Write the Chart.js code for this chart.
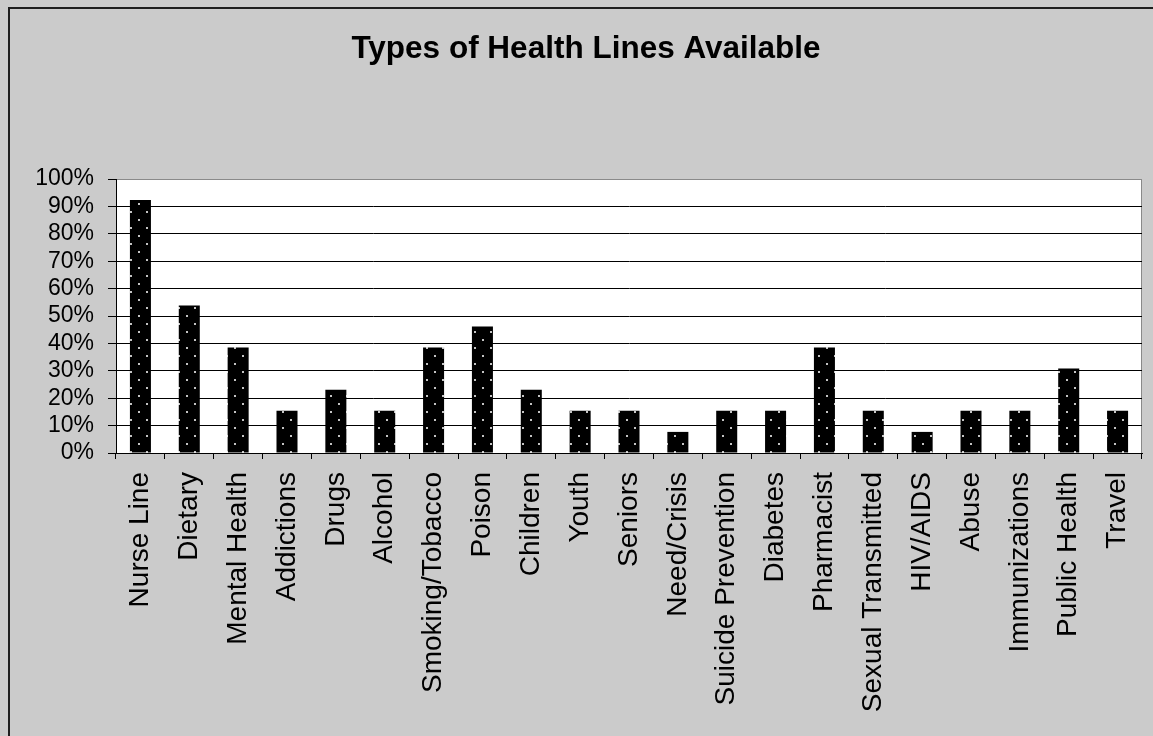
<!DOCTYPE html>
<html>
<head>
<meta charset="utf-8">
<title>Types of Health Lines Available</title>
<script src="https://cdn.jsdelivr.net/npm/chart.js@4/dist/chart.umd.min.js"></script>
<style>
  html, body { margin: 0; padding: 0; background: #cbcbcb; }
  #wrap { width: 1153px; height: 736px; }
</style>
</head>
<body>
<div id="wrap"><canvas id="chart" width="1153" height="736"></canvas></div>
<script>
// Share of respondents offering each type of health line (percent)
const categories = [
  'Nurse Line', 'Dietary', 'Mental Health', 'Addictions', 'Drugs', 'Alcohol',
  'Smoking/Tobacco', 'Poison', 'Children', 'Youth', 'Seniors', 'Need/Crisis',
  'Suicide Prevention', 'Diabetes', 'Pharmacist', 'Sexual Transmitted',
  'HIV/AIDS', 'Abuse', 'Immunizations', 'Public Health', 'Travel'
];
const shares = [
  92.3, 53.8, 38.5, 15.4, 23.1, 15.4,
  38.5, 46.2, 23.1, 15.4, 15.4, 7.7,
  15.4, 15.4, 38.5, 15.4,
  7.7, 15.4, 15.4, 30.8, 15.4
];
const yTicks = [0, 10, 20, 30, 40, 50, 60, 70, 80, 90, 100];
const chartTitle = 'Types of Health Lines Available';

const FONT = "'Liberation Sans', Arial, sans-serif";

// Black fill with a staggered grid of light dots
function dottedFill() {
  const tile = document.createElement('canvas');
  tile.width = 16; tile.height = 16;
  const t = tile.getContext('2d');
  t.fillStyle = '#000';
  t.fillRect(0, 0, 16, 16);
  t.fillStyle = '#c4c4c4';
  t.fillRect(2, 3, 2, 2);
  t.fillRect(10, 11, 2, 2);
  return t.createPattern(tile, 'repeat');
}

// Gray page, frame lines and white plot area
const backdrop = {
  id: 'backdrop',
  beforeDraw(chart) {
    const { ctx, chartArea: a, width, height } = chart;
    ctx.save();
    ctx.fillStyle = '#cbcbcb';
    ctx.fillRect(0, 0, width, height);
    ctx.fillStyle = '#1e1e1e';
    ctx.fillRect(8, 7, width - 8, 2);
    ctx.fillRect(8, 7, 2, height - 7);
    ctx.fillStyle = '#ffffff';
    ctx.fillRect(a.left, a.top, a.right - a.left, a.bottom - a.top);
    ctx.strokeStyle = '#8a8a8a';
    ctx.lineWidth = 1;
    ctx.strokeRect(a.left + 0.5, a.top + 0.5, a.right - a.left - 1, a.bottom - a.top);
    ctx.restore();
  }
};

new Chart(document.getElementById('chart'), {
  type: 'bar',
  data: {
    labels: categories,
    datasets: [{
      data: shares,
      backgroundColor: dottedFill(),
      borderWidth: 0,
      barPercentage: 0.43,
      categoryPercentage: 1.0
    }]
  },
  options: {
    responsive: false,
    animation: false,
    events: [],
    layout: { padding: { left: 30, right: 11, top: 0, bottom: 0 } },
    plugins: {
      legend: { display: false },
      tooltip: { enabled: false },
      title: {
        display: true,
        text: chartTitle,
        color: '#000',
        font: { family: FONT, size: 31.5, weight: 'bold', lineHeight: 1.2 },
        padding: { top: 30, bottom: 111.2 }
      }
    },
    scales: {
      x: {
        grid: {
          offset: true,
          drawOnChartArea: false,
          tickLength: 6,
          color: '#000',
          lineWidth: 1
        },
        border: { color: '#000', width: 1 },
        ticks: {
          autoSkip: false,
          minRotation: 90,
          maxRotation: 90,
          padding: 13,
          color: '#000',
          font: { family: FONT, size: 28 }
        },
        afterFit(scale) {
          scale.height = 283;
          scale.paddingLeft = 0;
          scale.paddingRight = 0;
        }
      },
      y: {
        min: 0,
        max: 100,
        afterBuildTicks(scale) {
          scale.ticks = yTicks.map(v => ({ value: v }));
        },
        grid: {
          color: ctx => (ctx.tick && ctx.tick.value === 100 ? '#8a8a8a' : '#000'),
          tickColor: '#000',
          tickLength: 8,
          lineWidth: 1
        },
        border: { color: '#000', width: 1 },
        ticks: {
          autoSkip: false,
          padding: 14,
          color: '#000',
          font: { family: FONT, size: 23, lineHeight: 1 },
          callback: v => v + '%'
        },
        afterFit(scale) {
          scale.width = 86;
          scale.paddingTop = 0;
          scale.paddingBottom = 0;
        }
      }
    }
  },
  plugins: [backdrop]
});
</script>
</body>
</html>
